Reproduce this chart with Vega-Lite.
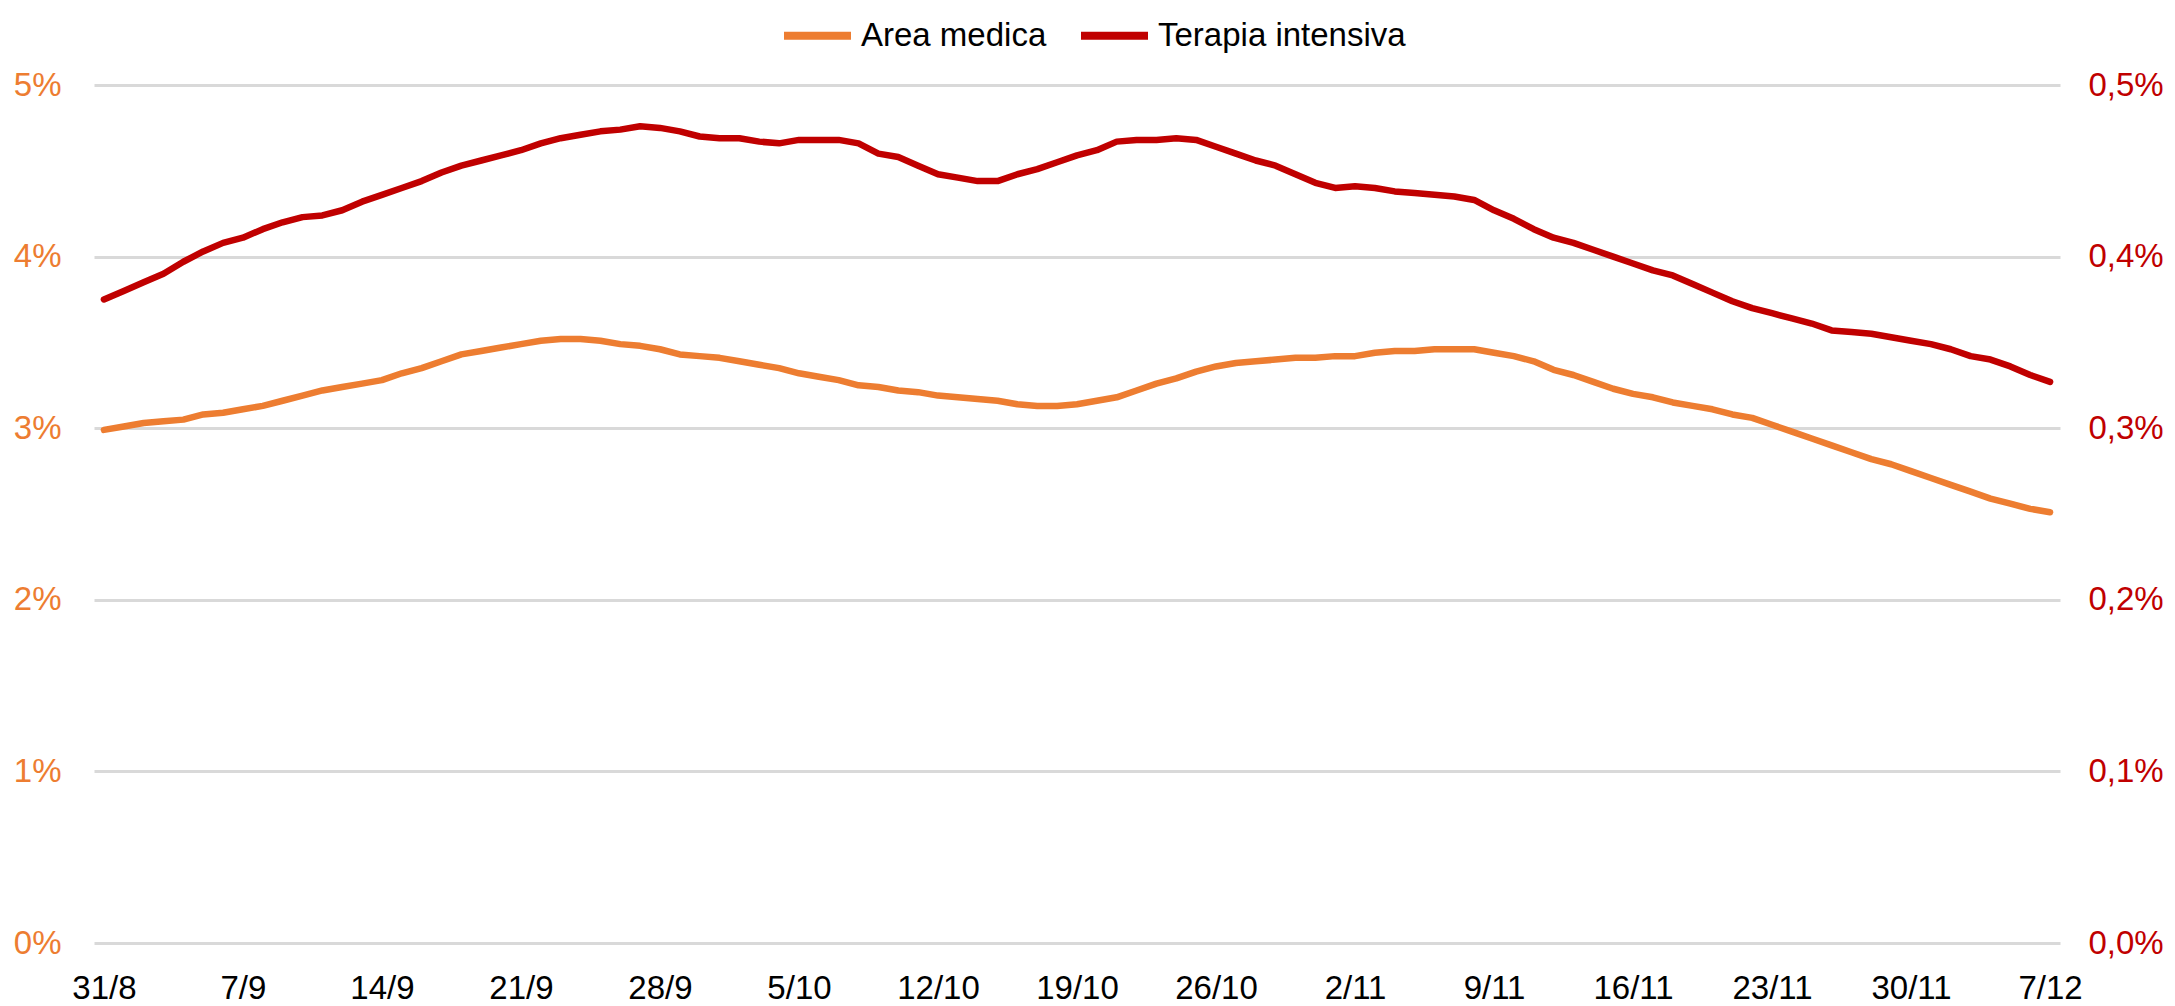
{
  "$schema": "https://vega.github.io/schema/vega-lite/v6.json",
  "width": 1966,
  "height": 858,
  "autosize": {"type": "none"},
  "padding": {"left": 94, "top": 85, "right": 115, "bottom": 63},
  "background": "white",
  "config": {
    "view": {"stroke": null},
    "font": "Liberation Sans, Arial, sans-serif"
  },
  "data": {
    "values": [
      {"date": "2020-08-31", "area_medica": 2.99, "terapia_intensiva": 0.375},
      {"date": "2020-09-01", "area_medica": 3.01, "terapia_intensiva": 0.380},
      {"date": "2020-09-02", "area_medica": 3.03, "terapia_intensiva": 0.385},
      {"date": "2020-09-03", "area_medica": 3.04, "terapia_intensiva": 0.390},
      {"date": "2020-09-04", "area_medica": 3.05, "terapia_intensiva": 0.397},
      {"date": "2020-09-05", "area_medica": 3.08, "terapia_intensiva": 0.403},
      {"date": "2020-09-06", "area_medica": 3.09, "terapia_intensiva": 0.408},
      {"date": "2020-09-07", "area_medica": 3.11, "terapia_intensiva": 0.411},
      {"date": "2020-09-08", "area_medica": 3.13, "terapia_intensiva": 0.416},
      {"date": "2020-09-09", "area_medica": 3.16, "terapia_intensiva": 0.420},
      {"date": "2020-09-10", "area_medica": 3.19, "terapia_intensiva": 0.423},
      {"date": "2020-09-11", "area_medica": 3.22, "terapia_intensiva": 0.424},
      {"date": "2020-09-12", "area_medica": 3.24, "terapia_intensiva": 0.427},
      {"date": "2020-09-13", "area_medica": 3.26, "terapia_intensiva": 0.432},
      {"date": "2020-09-14", "area_medica": 3.28, "terapia_intensiva": 0.436},
      {"date": "2020-09-15", "area_medica": 3.32, "terapia_intensiva": 0.440},
      {"date": "2020-09-16", "area_medica": 3.35, "terapia_intensiva": 0.444},
      {"date": "2020-09-17", "area_medica": 3.39, "terapia_intensiva": 0.449},
      {"date": "2020-09-18", "area_medica": 3.43, "terapia_intensiva": 0.453},
      {"date": "2020-09-19", "area_medica": 3.45, "terapia_intensiva": 0.456},
      {"date": "2020-09-20", "area_medica": 3.47, "terapia_intensiva": 0.459},
      {"date": "2020-09-21", "area_medica": 3.49, "terapia_intensiva": 0.462},
      {"date": "2020-09-22", "area_medica": 3.51, "terapia_intensiva": 0.466},
      {"date": "2020-09-23", "area_medica": 3.52, "terapia_intensiva": 0.469},
      {"date": "2020-09-24", "area_medica": 3.52, "terapia_intensiva": 0.471},
      {"date": "2020-09-25", "area_medica": 3.51, "terapia_intensiva": 0.473},
      {"date": "2020-09-26", "area_medica": 3.49, "terapia_intensiva": 0.474},
      {"date": "2020-09-27", "area_medica": 3.48, "terapia_intensiva": 0.476},
      {"date": "2020-09-28", "area_medica": 3.46, "terapia_intensiva": 0.475},
      {"date": "2020-09-29", "area_medica": 3.43, "terapia_intensiva": 0.473},
      {"date": "2020-09-30", "area_medica": 3.42, "terapia_intensiva": 0.470},
      {"date": "2020-10-01", "area_medica": 3.41, "terapia_intensiva": 0.469},
      {"date": "2020-10-02", "area_medica": 3.39, "terapia_intensiva": 0.469},
      {"date": "2020-10-03", "area_medica": 3.37, "terapia_intensiva": 0.467},
      {"date": "2020-10-04", "area_medica": 3.35, "terapia_intensiva": 0.466},
      {"date": "2020-10-05", "area_medica": 3.32, "terapia_intensiva": 0.468},
      {"date": "2020-10-06", "area_medica": 3.30, "terapia_intensiva": 0.468},
      {"date": "2020-10-07", "area_medica": 3.28, "terapia_intensiva": 0.468},
      {"date": "2020-10-08", "area_medica": 3.25, "terapia_intensiva": 0.466},
      {"date": "2020-10-09", "area_medica": 3.24, "terapia_intensiva": 0.460},
      {"date": "2020-10-10", "area_medica": 3.22, "terapia_intensiva": 0.458},
      {"date": "2020-10-11", "area_medica": 3.21, "terapia_intensiva": 0.453},
      {"date": "2020-10-12", "area_medica": 3.19, "terapia_intensiva": 0.448},
      {"date": "2020-10-13", "area_medica": 3.18, "terapia_intensiva": 0.446},
      {"date": "2020-10-14", "area_medica": 3.17, "terapia_intensiva": 0.444},
      {"date": "2020-10-15", "area_medica": 3.16, "terapia_intensiva": 0.444},
      {"date": "2020-10-16", "area_medica": 3.14, "terapia_intensiva": 0.448},
      {"date": "2020-10-17", "area_medica": 3.13, "terapia_intensiva": 0.451},
      {"date": "2020-10-18", "area_medica": 3.13, "terapia_intensiva": 0.455},
      {"date": "2020-10-19", "area_medica": 3.14, "terapia_intensiva": 0.459},
      {"date": "2020-10-20", "area_medica": 3.16, "terapia_intensiva": 0.462},
      {"date": "2020-10-21", "area_medica": 3.18, "terapia_intensiva": 0.467},
      {"date": "2020-10-22", "area_medica": 3.22, "terapia_intensiva": 0.468},
      {"date": "2020-10-23", "area_medica": 3.26, "terapia_intensiva": 0.468},
      {"date": "2020-10-24", "area_medica": 3.29, "terapia_intensiva": 0.469},
      {"date": "2020-10-25", "area_medica": 3.33, "terapia_intensiva": 0.468},
      {"date": "2020-10-26", "area_medica": 3.36, "terapia_intensiva": 0.464},
      {"date": "2020-10-27", "area_medica": 3.38, "terapia_intensiva": 0.460},
      {"date": "2020-10-28", "area_medica": 3.39, "terapia_intensiva": 0.456},
      {"date": "2020-10-29", "area_medica": 3.40, "terapia_intensiva": 0.453},
      {"date": "2020-10-30", "area_medica": 3.41, "terapia_intensiva": 0.448},
      {"date": "2020-10-31", "area_medica": 3.41, "terapia_intensiva": 0.443},
      {"date": "2020-11-01", "area_medica": 3.42, "terapia_intensiva": 0.440},
      {"date": "2020-11-02", "area_medica": 3.42, "terapia_intensiva": 0.441},
      {"date": "2020-11-03", "area_medica": 3.44, "terapia_intensiva": 0.440},
      {"date": "2020-11-04", "area_medica": 3.45, "terapia_intensiva": 0.438},
      {"date": "2020-11-05", "area_medica": 3.45, "terapia_intensiva": 0.437},
      {"date": "2020-11-06", "area_medica": 3.46, "terapia_intensiva": 0.436},
      {"date": "2020-11-07", "area_medica": 3.46, "terapia_intensiva": 0.435},
      {"date": "2020-11-08", "area_medica": 3.46, "terapia_intensiva": 0.433},
      {"date": "2020-11-09", "area_medica": 3.44, "terapia_intensiva": 0.427},
      {"date": "2020-11-10", "area_medica": 3.42, "terapia_intensiva": 0.422},
      {"date": "2020-11-11", "area_medica": 3.39, "terapia_intensiva": 0.416},
      {"date": "2020-11-12", "area_medica": 3.34, "terapia_intensiva": 0.411},
      {"date": "2020-11-13", "area_medica": 3.31, "terapia_intensiva": 0.408},
      {"date": "2020-11-14", "area_medica": 3.27, "terapia_intensiva": 0.404},
      {"date": "2020-11-15", "area_medica": 3.23, "terapia_intensiva": 0.400},
      {"date": "2020-11-16", "area_medica": 3.20, "terapia_intensiva": 0.396},
      {"date": "2020-11-17", "area_medica": 3.18, "terapia_intensiva": 0.392},
      {"date": "2020-11-18", "area_medica": 3.15, "terapia_intensiva": 0.389},
      {"date": "2020-11-19", "area_medica": 3.13, "terapia_intensiva": 0.384},
      {"date": "2020-11-20", "area_medica": 3.11, "terapia_intensiva": 0.379},
      {"date": "2020-11-21", "area_medica": 3.08, "terapia_intensiva": 0.374},
      {"date": "2020-11-22", "area_medica": 3.06, "terapia_intensiva": 0.370},
      {"date": "2020-11-23", "area_medica": 3.02, "terapia_intensiva": 0.367},
      {"date": "2020-11-24", "area_medica": 2.98, "terapia_intensiva": 0.364},
      {"date": "2020-11-25", "area_medica": 2.94, "terapia_intensiva": 0.361},
      {"date": "2020-11-26", "area_medica": 2.90, "terapia_intensiva": 0.357},
      {"date": "2020-11-27", "area_medica": 2.86, "terapia_intensiva": 0.356},
      {"date": "2020-11-28", "area_medica": 2.82, "terapia_intensiva": 0.355},
      {"date": "2020-11-29", "area_medica": 2.79, "terapia_intensiva": 0.353},
      {"date": "2020-11-30", "area_medica": 2.75, "terapia_intensiva": 0.351},
      {"date": "2020-12-01", "area_medica": 2.71, "terapia_intensiva": 0.349},
      {"date": "2020-12-02", "area_medica": 2.67, "terapia_intensiva": 0.346},
      {"date": "2020-12-03", "area_medica": 2.63, "terapia_intensiva": 0.342},
      {"date": "2020-12-04", "area_medica": 2.59, "terapia_intensiva": 0.340},
      {"date": "2020-12-05", "area_medica": 2.56, "terapia_intensiva": 0.336},
      {"date": "2020-12-06", "area_medica": 2.53, "terapia_intensiva": 0.331},
      {"date": "2020-12-07", "area_medica": 2.51, "terapia_intensiva": 0.327}
    ]
  },
  "encoding": {
    "x": {
      "field": "date",
      "type": "temporal",
      "scale": {
        "type": "utc",
        "domain": [
          {"year": 2020, "month": 8, "date": 30, "hours": 12, "utc": true},
          {"year": 2020, "month": 12, "date": 7, "hours": 12, "utc": true}
        ]
      },
      "axis": {
        "title": null,
        "domain": false,
        "ticks": false,
        "grid": false,
        "format": "%-d/%-m",
        "values": [
          {"year": 2020, "month": 8, "date": 31, "utc": true},
          {"year": 2020, "month": 9, "date": 7, "utc": true},
          {"year": 2020, "month": 9, "date": 14, "utc": true},
          {"year": 2020, "month": 9, "date": 21, "utc": true},
          {"year": 2020, "month": 9, "date": 28, "utc": true},
          {"year": 2020, "month": 10, "date": 5, "utc": true},
          {"year": 2020, "month": 10, "date": 12, "utc": true},
          {"year": 2020, "month": 10, "date": 19, "utc": true},
          {"year": 2020, "month": 10, "date": 26, "utc": true},
          {"year": 2020, "month": 11, "date": 2, "utc": true},
          {"year": 2020, "month": 11, "date": 9, "utc": true},
          {"year": 2020, "month": 11, "date": 16, "utc": true},
          {"year": 2020, "month": 11, "date": 23, "utc": true},
          {"year": 2020, "month": 11, "date": 30, "utc": true},
          {"year": 2020, "month": 12, "date": 7, "utc": true}
        ],
        "labelFontSize": 33,
        "labelColor": "#000000",
        "labelPadding": 29,
        "labelFlush": false,
        "labelOverlap": false
      }
    }
  },
  "layer": [
    {
      "mark": {"type": "line", "strokeWidth": 6.5, "strokeCap": "round", "strokeJoin": "round"},
      "encoding": {
        "y": {
          "field": "area_medica",
          "type": "quantitative",
          "scale": {"domain": [0, 5], "nice": false, "zero": true},
          "axis": {
            "orient": "left",
            "title": null,
            "values": [0, 1, 2, 3, 4, 5],
            "labelExpr": "datum.value + '%'",
            "grid": true,
            "gridColor": "#D9D9D9",
            "gridWidth": 3,
            "domain": false,
            "ticks": false,
            "labelColor": "#ED7D31",
            "labelFontSize": 33,
            "labelPadding": 33
          }
        },
        "color": {
          "datum": "Area medica",
          "type": "nominal",
          "scale": {"domain": ["Area medica", "Terapia intensiva"], "range": ["#ED7D31", "#C00000"]},
          "legend": {
            "orient": "none",
            "legendX": 686,
            "legendY": -87,
            "direction": "horizontal",
            "title": null,
            "symbolType": "stroke",
            "symbolSize": 4489,
            "symbolStrokeWidth": 8,
            "labelFontSize": 33,
            "labelColor": "#000000",
            "labelOffset": 6,
            "labelLimit": 600,
            "columnPadding": 18,
            "padding": 0
          }
        }
      }
    },
    {
      "mark": {"type": "line", "strokeWidth": 6.5, "strokeCap": "round", "strokeJoin": "round"},
      "encoding": {
        "y": {
          "field": "terapia_intensiva",
          "type": "quantitative",
          "scale": {"domain": [0, 0.5], "nice": false, "zero": true},
          "axis": {
            "orient": "right",
            "title": null,
            "values": [0, 0.1, 0.2, 0.3, 0.4, 0.5],
            "labelExpr": "replace(format(datum.value, '.1f'), '.', ',') + '%'",
            "grid": false,
            "domain": false,
            "ticks": false,
            "labelColor": "#C00000",
            "labelFontSize": 33,
            "labelPadding": 28
          }
        },
        "color": {"datum": "Terapia intensiva", "type": "nominal"}
      }
    }
  ],
  "resolve": {"scale": {"y": "independent"}}
}
